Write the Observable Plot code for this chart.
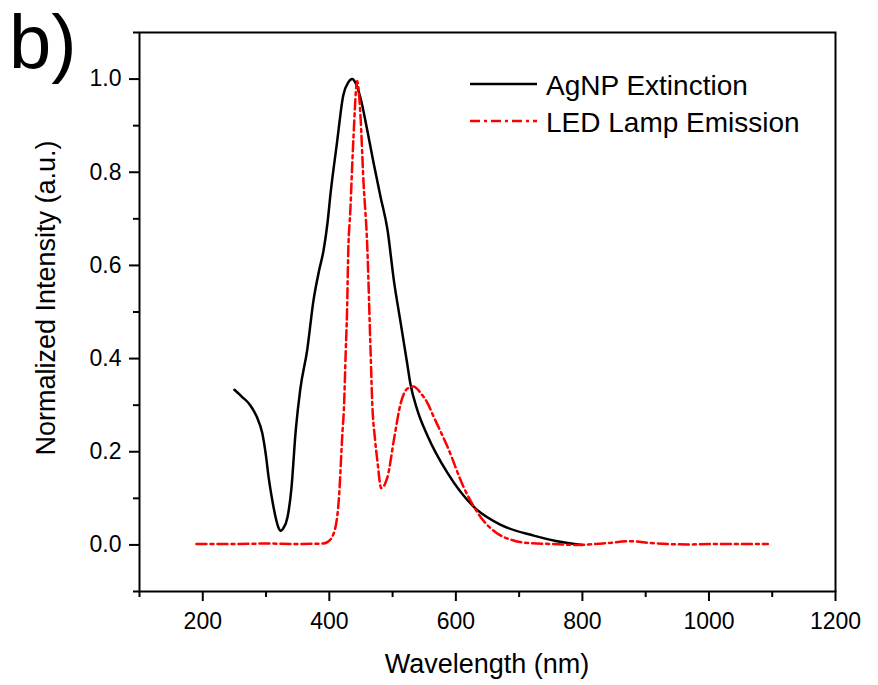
<!DOCTYPE html>
<html>
<head>
<meta charset="utf-8">
<script src="https://cdn.jsdelivr.net/npm/d3@7"></script>
<script src="https://cdn.jsdelivr.net/npm/@observablehq/plot@0.6"></script>
<style>
  html, body { margin: 0; padding: 0; background: #fff; }
  #wrap { position: relative; width: 878px; height: 685px; }
  #overlay { position: absolute; left: 0; top: 0; pointer-events: none; }
</style>
</head>
<body>
<div id="wrap"></div>
<script>
// ---- data ----
const agnpWavelength = [250, 262, 275, 285, 294, 300, 304, 310, 315, 320, 323, 327, 334, 340, 347, 354, 365, 375, 384, 391, 397, 402, 412, 422, 430, 436, 442, 449, 460, 470, 481, 492, 502, 512, 523, 528, 539, 555, 587, 628, 671, 723, 760, 800];
const agnpValue      = [0.333, 0.318, 0.300, 0.276, 0.240, 0.190, 0.146, 0.095, 0.060, 0.036, 0.030, 0.035, 0.060, 0.120, 0.247, 0.333, 0.418, 0.525, 0.590, 0.633, 0.690, 0.755, 0.862, 0.965, 0.993, 1.000, 0.990, 0.961, 0.890, 0.820, 0.747, 0.676, 0.568, 0.483, 0.390, 0.347, 0.290, 0.235, 0.154, 0.082, 0.043, 0.020, 0.008, 0.000];

const ledWavelength = [190, 250, 300, 350, 390, 397, 407, 415, 421, 423, 426, 428, 430, 433, 438, 444, 449, 454, 460, 465, 468, 472, 476, 482, 492, 502, 513, 523, 533, 545, 555, 565, 587, 612, 639, 665, 690, 713, 750, 792, 840, 876, 908, 966, 1000, 1093];
const ledValue      = [0.002, 0.002, 0.003, 0.002, 0.003, 0.006, 0.025, 0.097, 0.247, 0.290, 0.418, 0.500, 0.633, 0.712, 0.870, 0.996, 0.927, 0.780, 0.640, 0.425, 0.300, 0.230, 0.180, 0.122, 0.146, 0.225, 0.305, 0.335, 0.340, 0.325, 0.305, 0.275, 0.210, 0.125, 0.060, 0.025, 0.010, 0.004, 0.002, 0.000, 0.004, 0.008, 0.004, 0.001, 0.002, 0.002];

const xMajorTicks = [200, 400, 600, 800, 1000, 1200];
const xMinorTicks = [100, 300, 500, 700, 900, 1100];
const yMajorTicks = [0.0, 0.2, 0.4, 0.6, 0.8, 1.0];
const yMinorTicks = [-0.1, 0.1, 0.3, 0.5, 0.7, 0.9, 1.1];

const seriesNames = ["AgNP Extinction", "LED Lamp Emission"];
const xTitle = "Wavelength (nm)";
const yTitle = "Normalized Intensity (a.u.)";
const panelLabel = "b)";

const agnp = agnpWavelength.map((w, i) => ({w, v: agnpValue[i]}));
const led = ledWavelength.map((w, i) => ({w, v: ledValue[i]}));

const W = 878, H = 685;
const mL = 139, mR = 43, mT = 32, mB = 94;
const font = "'Liberation Sans', Arial, Helvetica, sans-serif";

const chart = Plot.plot({
  width: W,
  height: H,
  marginLeft: mL,
  marginRight: mR,
  marginTop: mT,
  marginBottom: mB,
  style: {fontFamily: font, fontSize: "23px", color: "#000", background: "#fff"},
  x: {domain: [100, 1200]},
  y: {domain: [-0.1, 1.1]},
  marks: [
    Plot.axisX({ticks: xMinorTicks, tickSize: 6, text: null, label: null}),
    Plot.axisX({ticks: xMajorTicks, tickSize: 10, tickPadding: 11, fontSize: 23, tickFormat: d3.format("d"), label: null}),
    Plot.axisY({ticks: yMinorTicks, tickSize: 6, text: null, label: null}),
    Plot.axisY({ticks: yMajorTicks, tickSize: 10, tickPadding: 8, fontSize: 23, tickFormat: d3.format(".1f"), label: null}),
    Plot.line(agnp, {x: "w", y: "v", stroke: "#000", strokeWidth: 2.5, curve: "monotone-x"}),
    Plot.line(led, {x: "w", y: "v", stroke: "#ff0000", strokeWidth: 2.5, curve: "monotone-x", strokeDasharray: "10,4,3,4"}),
    Plot.frame({stroke: "#000", strokeWidth: 2})
  ]
});

// thicker tick marks like the reference
d3.select(chart).selectAll("g[aria-label$='tick']").attr("stroke-width", 2).attr("stroke", "#000");

const wrap = document.getElementById("wrap");
wrap.appendChild(chart);

// overlay: panel label, axis titles, legend
const ov = d3.select(wrap).append("svg")
  .attr("id", "overlay")
  .attr("width", W).attr("height", H)
  .style("font-family", font);

ov.append("text").attr("x", 9).attr("y", 68).attr("font-size", 76).attr("fill", "#000").text(panelLabel);

ov.append("text").attr("x", (mL + W - mR) / 2).attr("y", 673)
  .attr("text-anchor", "middle").attr("font-size", 27).attr("fill", "#000").text(xTitle);

ov.append("text").attr("transform", `translate(55, 298) rotate(-90)`)
  .attr("text-anchor", "middle").attr("font-size", 27).attr("fill", "#000").text(yTitle);

const legendItems = [
  {name: seriesNames[0], stroke: "#000", dash: null},
  {name: seriesNames[1], stroke: "#ff0000", dash: "10,4,3,4"}
];
legendItems.forEach((d, i) => {
  const y = 84 + i * 37;
  ov.append("line").attr("x1", 470).attr("x2", 537).attr("y1", y).attr("y2", y)
    .attr("stroke", d.stroke).attr("stroke-width", 2.5)
    .attr("stroke-dasharray", d.dash);
  ov.append("text").attr("x", 546).attr("y", y + 11).attr("font-size", 28).attr("fill", "#000").text(d.name);
});
</script>
</body>
</html>
